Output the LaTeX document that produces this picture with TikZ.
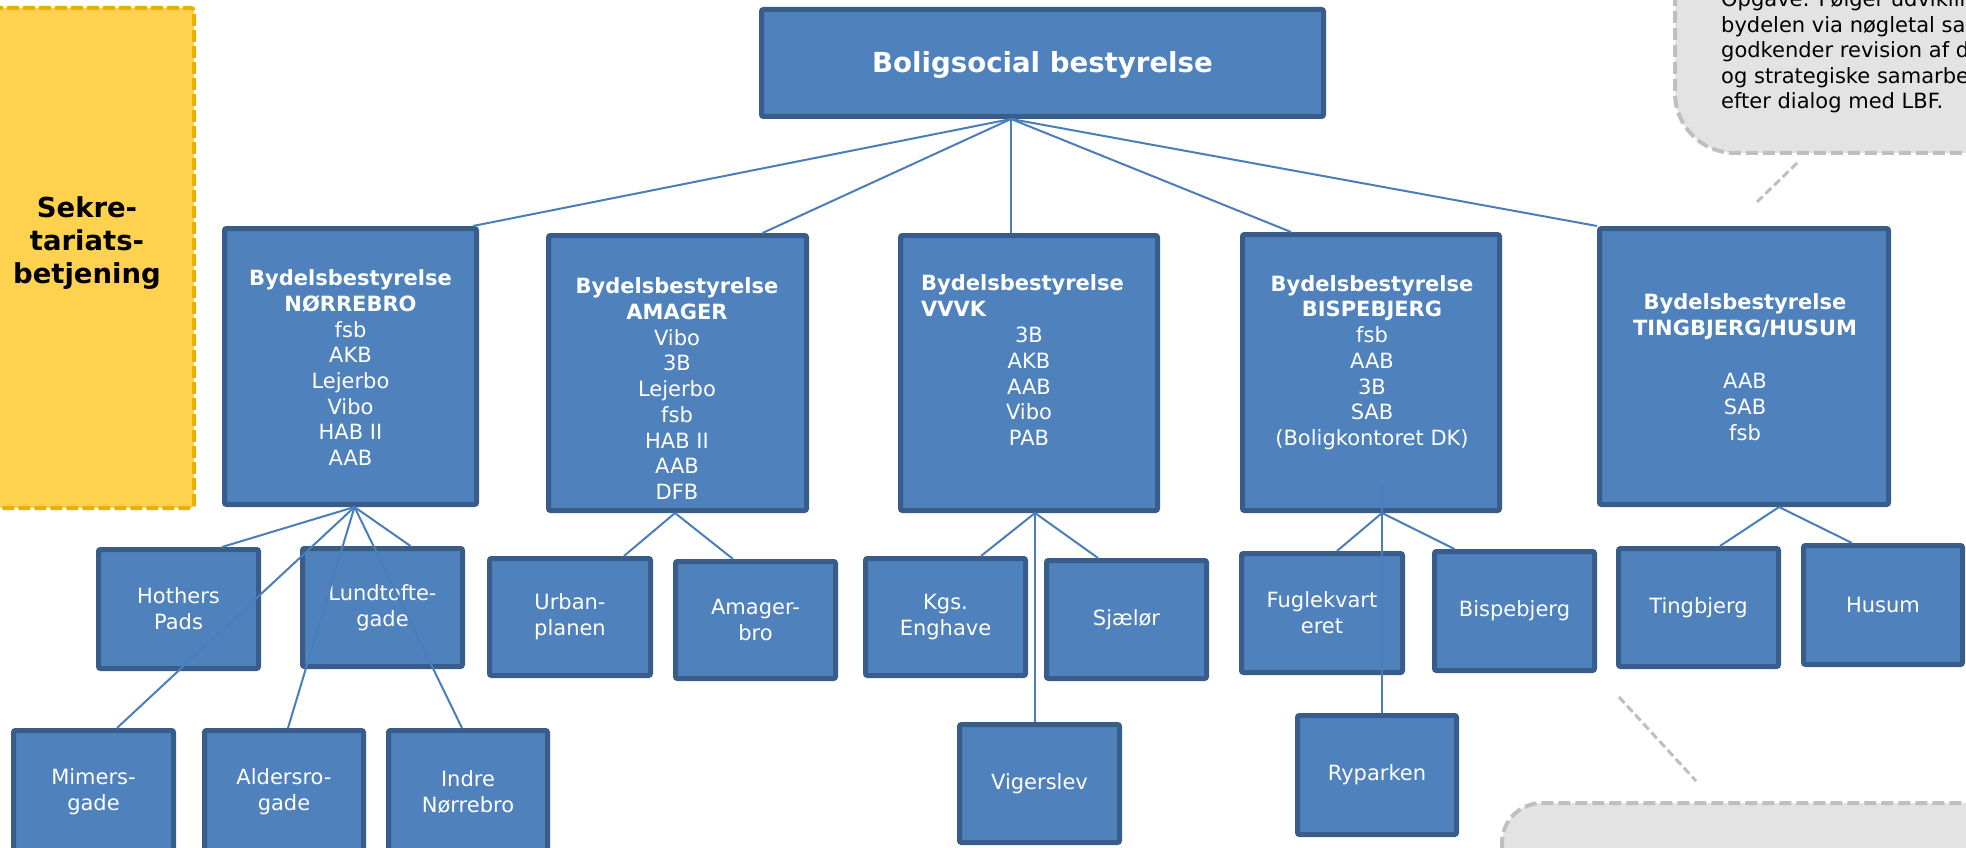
\documentclass[tikz,border=0pt]{standalone}
\usepackage{fontspec}
\setmainfont{DejaVu Sans}
\definecolor{boxblue}{HTML}{4F81BD}
\definecolor{boxline}{HTML}{385D8A}
\definecolor{linkblue}{HTML}{4A7EBB}
\definecolor{yelfill}{HTML}{FED24E}
\definecolor{yelline}{HTML}{E9B000}
\definecolor{grayfill}{HTML}{E3E3E3}
\definecolor{grayline}{HTML}{BFBFBF}
\tikzset{
  bbox/.style={draw=boxline, fill=boxblue, line width=5pt, rounded corners=2pt, inner sep=0pt, outer sep=2.5pt, text=white, align=center, font=\fontsize{21}{25.7}\selectfont},
  lbl/.style={text=white, align=center, inner sep=0pt, font=\fontsize{21}{25.7}\selectfont},
  link/.style={draw=linkblue, line width=2pt},
  callout/.style={draw=grayline, fill=grayfill, line width=4pt, dash pattern=on 12pt off 5pt},
  pointer/.style={draw=grayline, line width=3pt, dash pattern=on 8pt off 4pt},
  yelbox/.style={draw=yelline, fill=yelfill, line width=4pt, dash pattern=on 12pt off 4pt, rounded corners=3pt},
}
\begin{document}
\begin{tikzpicture}[x=1pt,y=-1pt]
\useasboundingbox (0,0) rectangle (1966,848);
\begin{scope}
\clip (0,0) rectangle (1966,848);

% side box and callouts
\draw[yelbox] (-30,8) rectangle (194,508);
\node[inner sep=0pt, align=center, text=black, font=\bfseries\fontsize{27.5}{33}\selectfont] (sek) at (87,242.8) {Sekre-\\tariats-\\betjening};

\draw[callout, rounded corners=60pt] (1675,-100) rectangle (2150,153);
\node[anchor=north west, inner sep=0pt, align=left, text=black, font=\fontsize{21}{25.5}\selectfont] (opg) at (1721,-9.4)
  {Opgave: Følger udviklin\\bydelen via nøgletal sa\\godkender revision af d\\og strategiske samarbe\\efter dialog med LBF.};
\coordinate (p1a) at (1797,163);
\coordinate (p1b) at (1757,202);
\draw[pointer] (p1a) -- (p1b);

\draw[callout, rounded corners=40pt] (1502,803) rectangle (2150,1000);
\coordinate (p2a) at (1619,697);
\coordinate (p2b) at (1696,781);
\draw[pointer] (p2a) -- (p2b);

% top
\node[bbox, minimum width=562pt, minimum height=107pt, font=\bfseries\fontsize{27.6}{33}\selectfont, text height=20pt, text depth=0pt] (top) at (1042.5,63) {Boligsocial bestyrelse};

% level 1
\node[bbox, minimum width=252pt, minimum height=276pt] (nor) at (350.5,366.5) {};
\node[lbl] (norT) at (350.5,367.7) {\textbf{Bydelsbestyrelse}\\\textbf{NØRREBRO}\\fsb\\AKB\\Lejerbo\\Vibo\\HAB II\\AAB};

\node[bbox, minimum width=258pt, minimum height=275pt] (ama) at (677.5,373) {};
\node[lbl] (amaT) at (677,388.7) {\textbf{Bydelsbestyrelse}\\\textbf{AMAGER}\\Vibo\\3B\\Lejerbo\\fsb\\HAB II\\AAB\\DFB};

\node[bbox, minimum width=257pt, minimum height=275pt] (vvvk) at (1029,373) {};
\node[lbl, align=left, anchor=west] (vvvkH) at (921,295.2) {\textbf{Bydelsbestyrelse}\\\textbf{VVVK}};
\node[lbl] (vvvkT) at (1029,386.5) {3B\\AKB\\AAB\\Vibo\\PAB};

\node[bbox, minimum width=257pt, minimum height=276pt] (bis) at (1371,372.5) {};
\node[lbl] (bisT) at (1372,362.6) {\textbf{Bydelsbestyrelse}\\\textbf{BISPEBJERG}\\fsb\\AAB\\3B\\SAB\\(Boligkontoret DK)};

\node[bbox, minimum width=289pt, minimum height=276pt] (tin) at (1744,366.5) {};
\node[lbl] (tinT) at (1745,367.2) {\textbf{Bydelsbestyrelse}\\\textbf{TINGBJERG/HUSUM}\\[27.6pt]AAB\\SAB\\fsb};

% level 2
\node[bbox, minimum width=160pt, minimum height=119pt] (hot) at (178.5,609) {Hothers\\Pads};
\node[bbox, minimum width=160pt, minimum height=118pt] (lund) at (382.5,607.5) {Lundtofte-\\gade};
\node[bbox, minimum width=160pt, minimum height=123pt] (mim) at (93.5,792) {Mimers-\\gade};
\node[bbox, minimum width=159pt, minimum height=123pt] (ald) at (284,792) {Aldersro-\\gade};
\node[bbox, minimum width=159pt, minimum height=123pt] (ind) at (468,792) {Indre\\Nørrebro};

\node[bbox, minimum width=161pt, minimum height=117pt] (urb) at (570,617) {Urban-\\planen};
\node[bbox, minimum width=160pt, minimum height=117pt] (amb) at (755.5,620) {Amager-\\bro};

\node[bbox, minimum width=160pt, minimum height=117pt] (kgs) at (945.5,617) {Kgs.\\Enghave};
\node[bbox, minimum width=160pt, minimum height=118pt] (sja) at (1126.5,619.5) {Sjælør};
\node[bbox, minimum width=160pt, minimum height=118pt] (vig) at (1039.5,783.5) {Vigerslev};

\node[bbox, minimum width=161pt, minimum height=119pt] (fug) at (1322,613) {Fuglekvart\\eret};
\node[bbox, minimum width=160pt, minimum height=119pt] (bsp) at (1514.5,611) {Bispebjerg};
\node[bbox, minimum width=159pt, minimum height=119pt] (ryp) at (1377,775) {Ryparken};

\node[bbox, minimum width=160pt, minimum height=118pt] (tb) at (1698.5,607.5) {Tingbjerg};
\node[bbox, minimum width=159pt, minimum height=119pt] (hus) at (1883,605) {Husum};

% connectors
\coordinate (topO) at ([xshift=-31.5pt]top.south);
\draw[link] (topO) -- ([xshift=-6pt]nor.north east);
\draw[link] (topO) -- ([xshift=85pt]ama.north);
\draw[link] (topO) -- (topO |- vvvk.north);
\draw[link] (topO) -- ([xshift=-80pt]bis.north);
\draw[link] (topO) -- (tin.north west);

\coordinate (norO) at ([xshift=4pt]nor.south);
\draw[link] (norO) -- ([xshift=43.5pt]hot.north);
\draw[link] (norO) -- ([xshift=28pt]lund.north);
\draw[link] (norO) -- ([xshift=23.5pt]mim.north);
\draw[link] (norO) -- ([xshift=4pt]ald.north);
\draw[link] (norO) -- ([xshift=-6pt]ind.north);

\coordinate (amaO) at ([xshift=-2.5pt]ama.south);
\draw[link] (amaO) -- ([xshift=54pt]urb.north);
\draw[link] (amaO) -- ([xshift=-22.5pt]amb.north);

\coordinate (vvvkO) at ([xshift=6pt]vvvk.south);
\draw[link] (vvvkO) -- ([xshift=35.5pt]kgs.north);
\draw[link] (vvvkO) -- ([xshift=-28.5pt]sja.north);
\draw[link] (vvvkO) -- (vvvkO |- vig.north);

\coordinate (bisO) at ([xshift=11pt]bis.south);
\draw[link] (bisO) -- ([xshift=15pt]fug.north);
\draw[link] (bisO) -- ([xshift=-60pt]bsp.north);
\draw[link] ([yshift=30pt]bisO) -- (bisO |- ryp.north);

\coordinate (tinO) at ([xshift=35pt]tin.south);
\draw[link] (tinO) -- ([xshift=21.5pt]tb.north);
\draw[link] (tinO) -- ([xshift=-31pt]hus.north);
\end{scope}
\end{tikzpicture}
\end{document}
